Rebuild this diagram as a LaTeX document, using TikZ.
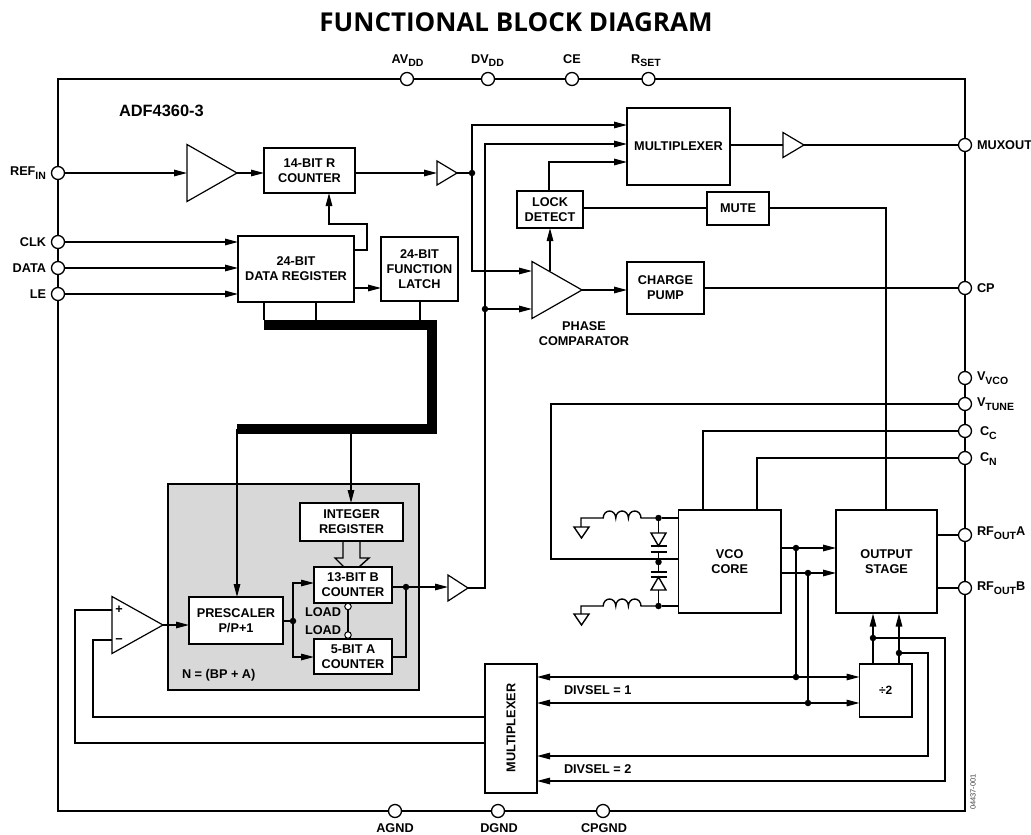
\documentclass[tikz,border=0pt]{standalone}
\usepackage{fontspec}
\setmainfont{Liberation Sans}
\newfontfamily\titlefont{Open Sans}
\usetikzlibrary{arrows.meta,shapes.geometric,calc}
\definecolor{greyblk}{RGB}{216,216,216}
\newcommand{\lsub}[1]{\raisebox{-0.28em}{\fontsize{10.5}{10}\selectfont #1}}
\tikzset{
 lbl/.style={font=\bfseries\fontsize{12.7}{15}\selectfont,align=center,inner sep=0pt,outer sep=0pt},
 blkbox/.style={lbl,draw,line width=1.4pt,fill=white},
 wire/.style={line width=1.4pt},
 arr/.style={wire,-{Triangle[length=13pt,width=6.5pt]}},
 barr/.style={wire,{Triangle[length=13pt,width=6.5pt]}-{Triangle[length=13pt,width=6.5pt]}},
 larr/.style={wire,{Triangle[length=13pt,width=6.5pt]}-},
 pin/.style={circle,draw,line width=1.3pt,fill=white,minimum size=13pt,inner sep=0pt,outer sep=0pt},
 smallpin/.style={circle,draw,line width=1pt,fill=white,minimum size=6.5pt,inner sep=0pt,outer sep=0pt},
 dot/.style={circle,fill=black,minimum size=6.5pt,inner sep=0pt,outer sep=0pt},
 amp/.style={isosceles triangle,isosceles triangle stretches,draw,line width=1.2pt,fill=white,inner sep=0pt,outer sep=0pt,anchor=west},
}
\newcommand{\blk}[6]{\pgfmathsetmacro\bw{#4-#2}\pgfmathsetmacro\bh{#5-#3}%
 \node[blkbox,minimum width=\bw pt,minimum height=\bh pt] (#1) at ({(#2+#4)/2},{(#3+#5)/2}) {#6};}
\begin{document}
\begin{tikzpicture}[x=1pt,y=-1pt]
\useasboundingbox (0,0) rectangle (1031,835);
\node[font=\titlefont\bfseries\fontsize{26}{28}\selectfont,inner sep=0pt] (title) at (516,22) {FUNCTIONAL BLOCK DIAGRAM};
% chip outline
\node[draw,line width=1.7pt,minimum width=907pt,minimum height=732pt,inner sep=0pt,outer sep=0pt] (chip) at (511.5,445) {};
\node[lbl,font=\bfseries\fontsize{16.4}{15}\selectfont,anchor=west] (part) at (119,111) {ADF4360-3};
% grey N counter block
\node[draw,line width=1.2pt,fill=greyblk,minimum width=251pt,minimum height=206pt,inner sep=0pt,outer sep=0pt] (ngrp) at (293.5,587) {};
\node[lbl,anchor=west] (neq) at (182,675) {N = (BP + A)};
% pins
\foreach \n/\x in {avdd/407,dvdd/488,ce/572,rset/648.5}{\node[pin] (\n) at (\x,79) {};}
\foreach \n/\x in {agnd/395,dgnd/498,cpgnd/603}{\node[pin] (\n) at (\x,811) {};}
\foreach \n/\y in {refin/173,clk/242,data/268,le/294}{\node[pin] (\n) at (58,\y) {};}
\foreach \n/\y in {muxout/145,cp/288,vvco/378,vtune/404,cc/431,cn/458,rfa/535,rfb/588}{\node[pin] (\n) at (965,\y) {};}
% pin labels
\node[lbl] at (407.5,60.5) (tavdd) {AV\lsub{DD}};
\node[lbl] at (487.5,60.5) (tdvdd) {DV\lsub{DD}};
\node[lbl] at (572,59) (tce) {CE};
\node[lbl] at (646,60.5) (trset) {R\lsub{SET}};
\node[lbl] at (395,828) (tagnd) {AGND};
\node[lbl] at (499,828) (tdgnd) {DGND};
\node[lbl] at (604,828) (tcpgnd) {CPGND};
\node[lbl,anchor=east] at (46,173) (trefin) {REF\lsub{IN}};
\node[lbl,anchor=east] at (46,242) (tclk) {CLK};
\node[lbl,anchor=east] at (46,268) (tdata) {DATA};
\node[lbl,anchor=east] at (46,294) (tle) {LE};
\node[lbl,anchor=west] at (977,145) (tmux) {MUXOUT};
\node[lbl,anchor=west] at (977,288) (tcp) {CP};
\node[lbl,anchor=west] at (977,378) (tvvco) {V\lsub{VCO}};
\node[lbl,anchor=west] at (977,404) (tvt) {V\lsub{TUNE}};
\node[lbl,anchor=west] at (980,433) (tcc) {C\lsub{C}};
\node[lbl,anchor=west] at (980,459) (tcn) {C\lsub{N}};
\node[lbl,anchor=west] at (977,533) (trfa) {RF\lsub{OUT}A};
\node[lbl,anchor=west] at (977,588) (trfb) {RF\lsub{OUT}B};
% blocks
\blk{rcnt}{264}{148}{355}{193}{14-BIT R\\COUNTER}
\blk{dreg}{238}{236}{354}{302}{24-BIT\\DATA REGISTER}
\blk{flat}{381}{237}{458}{301}{24-BIT\\FUNCTION\\LATCH}
\blk{mux}{627}{108}{730}{185}{MULTIPLEXER}
\blk{lock}{517}{191}{583}{228}{LOCK\\DETECT}
\blk{mute}{707}{192}{769}{225}{MUTE}
\blk{chg}{627}{262}{704}{314}{CHARGE\\PUMP}
\blk{intr}{300}{503}{403}{541}{INTEGER\\REGISTER}
\blk{bcnt}{314}{567}{392}{603}{13-BIT B\\COUNTER}
\blk{acnt}{314}{639}{392}{674}{5-BIT A\\COUNTER}
\blk{pres}{189}{597}{283}{644}{PRESCALER\\P/P+1}
\blk{vco}{678.5}{510}{781}{613}{VCO\\CORE}
\blk{ostg}{836}{510}{937}{613}{OUTPUT\\STAGE}
\blk{div}{859.5}{664}{912}{717}{\fontsize{12}{12}\selectfont ÷2}
\blk{mux2}{485}{664}{537}{793}{}
\node[lbl,rotate=90] (tmux2) at (511,728) {MULTIPLEXER};
\node[lbl] (tpc) at (584,333.5) {PHASE\\COMPARATOR};
\node[lbl,anchor=east] (tl1) at (341,612) {LOAD};
\node[lbl,anchor=east] (tl2) at (341,630) {LOAD};
\node[lbl,anchor=west] (ds1) at (564,690) {DIVSEL = 1};
\node[lbl,anchor=west] (ds2) at (564,769) {DIVSEL = 2};
\node[rotate=90,font=\fontsize{7.5}{8}\selectfont,text=black!75,inner sep=0pt] (code) at (973,792) {04437-001};
% amplifiers
\node[amp,minimum width=57pt,minimum height=50pt] (a1) at (187,173) {};
\node[amp,minimum width=24pt,minimum height=20pt] (a2) at (437,173) {};
\node[amp,minimum width=25pt,minimum height=21pt] (a3) at (783,145) {};
\node[amp,minimum width=57pt,minimum height=50pt] (pc) at (532,290) {};
\node[amp,minimum width=26pt,minimum height=20pt] (a4) at (448,588) {};
\node[amp,minimum width=57pt,minimum height=51pt] (cmp) at (112,625) {};
\node[lbl] (plus) at (119,610) {+};
\node[lbl] (minus) at (119,641) {−};
% dots
\node[dot] (d1) at (472,173) {};
\node[dot] (d2) at (485,309) {};
\node[dot] (d3) at (293,621) {};
\node[dot] (d4) at (406,587) {};
\node[dot] (d5) at (796,548) {};
\node[dot] (d6) at (808,573) {};
\node[dot] (d7) at (796,677) {};
\node[dot] (d8) at (808,703) {};
\node[dot] (d9) at (873,638) {};
\node[dot] (d10) at (899,653) {};
\node[dot] (dc1) at (658.5,518) {};
\node[dot] (dc2) at (658.5,562) {};
\node[dot] (dc3) at (658.5,606) {};
% wires left
\draw[arr] (refin) -- (a1.west);
\draw[arr] (a1.apex) -- (a1.apex -| rcnt.west);
\draw[arr] (rcnt.east |- a2.west) -- (a2.west);
\draw[wire] (a2.apex) -- (d1);
\draw[arr] (clk) -- (clk -| dreg.west);
\draw[arr] (data) -- (data -| dreg.west);
\draw[arr] (le) -- (le -| dreg.west);
\draw[arr] (dreg.east |- 0,250) -- (367,250) -- (367,224) -- (329,224) -- (329,193);
\draw[arr] (dreg.east |- 0,288) -- (flat.west |- 0,288);
% bus
\coordinate (b1) at (264,325);\coordinate (b2) at (432,325);\coordinate (b3) at (432,429);\coordinate (b4) at (237,429);
\draw[wire] (264,302) -- (264,320);
\draw[wire] (316,302) -- (316,320);
\draw[wire] (420,301) -- (420,320);
\draw[line width=10pt,line join=miter] (b1) -- (b2) -- (b3) -- (b4);
\draw[arr] (237,429) -- (237,597);
\draw[arr] (351,429) -- (351,503);
% top right
\draw[arr] (d1) -- (472,125) -- (mux.west |- 0,125);
\draw[arr] (a4.apex) -- (485,588) -- (485,144) -- (mux.west |- 0,144);
\draw[arr] (d1) -- (472,271) -- (532,271);
\draw[arr] (d2) -- (532,309);
\draw[arr] (549,191) -- (549,162) -- (mux.west |- 0,162);
\draw[arr] (550,271) -- (550,228);
\draw[arr] (pc.apex) -- (chg.west |- pc.apex);
\draw[wire] (mux.east |- a3.west) -- (a3.west);
\draw[wire] (a3.apex) -- (muxout);
\draw[wire] (chg.east |- cp) -- (cp);
\draw[wire] (lock.east |- 0,208) -- (mute.west |- 0,208);
\draw[wire] (mute.east |- 0,208) -- (886,208) -- (886,510);
% counters
\draw[wire] (343,541) -- (343,558) -- (335,558) -- (344,567);
\draw[wire] (360,541) -- (360,558) -- (369,558) -- (359,567);
\draw[arr] (cmp.apex) -- (pres.west |- cmp.apex);
\draw[wire] (pres.east |- d3) -- (d3);
\draw[arr] (d3) -- (293,583) -- (bcnt.west |- 0,583);
\draw[arr] (d3) -- (293,657) -- (acnt.west |- 0,657);
\node[smallpin] (lb) at (348,606.5) {};
\node[smallpin] (la) at (348,635) {};
\draw[wire] (lb) -- (la);
\draw[arr] (bcnt.east |- d4) -- (a4.west |- d4);
\draw[wire] (acnt.east |- 0,657) -- (406,657) -- (d4);
% feedback
\draw[wire] (cmp.west |- 0,610) -- (75,610) -- (75,743) -- (mux2.west |- 0,743);
\draw[wire] (cmp.west |- 0,640) -- (93,640) -- (93,717) -- (mux2.west |- 0,717);
% VCO wires
\draw[wire] (vtune) -- (551,404) -- (551,559) -- (vco.west |- 0,559);
\draw[wire] (cc) -- (703,431) -- (703,510);
\draw[wire] (cn) -- (757,458) -- (757,510);
\draw[wire] (ostg.east |- rfa) -- (rfa);
\draw[wire] (ostg.east |- rfb) -- (rfb);
\draw[arr] (vco.east |- d5) -- (ostg.west |- d5);
\draw[arr] (vco.east |- d6) -- (ostg.west |- d6);
\draw[wire] (d5) -- (d7);
\draw[wire] (d6) -- (d8);
\draw[barr] (mux2.east |- d7) -- (div.west |- d7);
\draw[barr] (mux2.east |- d8) -- (div.west |- d8);
\draw[arr] (873,664) -- (873,613.5);
\draw[arr] (899,664) -- (899,613.5);
\draw[larr] (mux2.east |- 0,756) -- (928,756) -- (928,653) -- (d10);
\draw[larr] (mux2.east |- 0,781) -- (945,781) -- (945,638) -- (d9);
% tank
\draw[wire] (dc1) -- (vco.west |- dc1);
\draw[wire] (dc3) -- (vco.west |- dc3);
\foreach \ye/\g/\gt in {518/527/538,606/614/625}{
 \draw[wire] (658.5,\ye) -- (641,\ye) arc[start angle=0,end angle=180,x radius=6.3pt,y radius=7pt] arc[start angle=0,end angle=180,x radius=6.3pt,y radius=7pt] arc[start angle=0,end angle=180,x radius=6.3pt,y radius=7pt] -- (581,\ye) -- (581,\g);
 \draw[wire] (574,\g) -- (589,\g) -- (581.5,\gt) -- cycle;
}
% varactors
\draw[wire] (dc1) -- (658.5,533);
\draw[wire] (651,533) -- (666,533) -- (658.5,546) -- cycle;
\draw[wire] (650.5,546) -- (666.5,546);
\draw[wire] (650.5,552) -- (666.5,552);
\draw[wire] (658.5,552) -- (dc2) -- (658.5,572);
\draw[wire] (650.5,572) -- (666.5,572);
\draw[wire] (650.5,577) -- (666.5,577);
\draw[wire] (658.5,577) -- (666,590) -- (651,590) -- cycle;
\draw[wire] (658.5,590) -- (dc3);
\end{tikzpicture}
\end{document}
